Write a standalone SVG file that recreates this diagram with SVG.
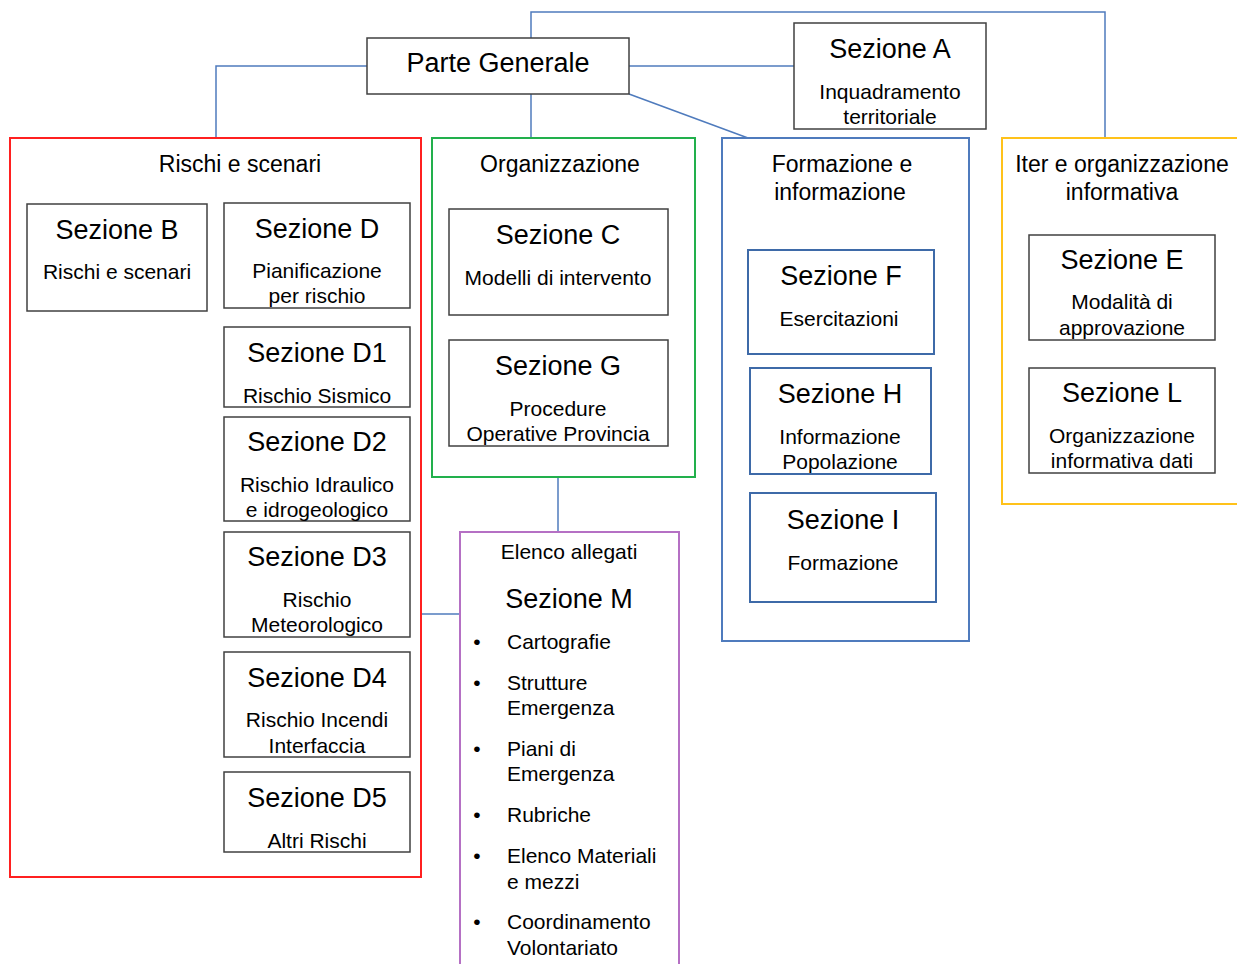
<svg xmlns="http://www.w3.org/2000/svg" width="1237" height="964" viewBox="0 0 1237 964">
<style>
text{font-family:"Liberation Sans",Arial,sans-serif;fill:#000;text-anchor:middle}
.h{font-size:27px}
.t{font-size:23px}
.b{font-size:21px}
.l{text-anchor:start}
.box{fill:#fff;stroke:#404040;stroke-width:1.5}
.bbox{fill:#fff;stroke:#3e6aa8;stroke-width:2}
.conn{fill:none;stroke:#4f7bbd;stroke-width:1.5}
</style>
<rect width="1237" height="964" fill="#fff"/>
<g id="connectors">
<polyline class="conn" points="531,38 531,12 1105,12 1105,138"/>
<polyline class="conn" points="367,66 216,66 216,138"/>
<line class="conn" x1="629" y1="66" x2="794" y2="66"/>
<line class="conn" x1="531" y1="94" x2="531" y2="138"/>
<line class="conn" x1="629" y1="94" x2="748" y2="138"/>
<line class="conn" x1="558" y1="477" x2="558" y2="532"/>
<line class="conn" x1="421" y1="614" x2="460" y2="614"/>
</g>
<g id="parte-generale">
<rect class="box" x="367" y="38" width="262" height="56"/>
<text class="h" x="498" y="72">Parte Generale</text>
</g>
<g id="sezione-a">
<rect class="box" x="794" y="23" width="192" height="106"/>
<text class="h" x="890" y="58">Sezione A</text>
<text class="b" x="890" y="99">Inquadramento</text>
<text class="b" x="890" y="124">territoriale</text>
</g>
<g id="rischi-scenari">
<rect x="10" y="138" width="411" height="739" fill="none" stroke="#ff2020" stroke-width="2"/>
<text class="t" x="240" y="172">Rischi e scenari</text>
</g>
<g id="sezione-b">
<rect class="box" x="27" y="204" width="180" height="107"/>
<text class="h" x="117" y="239">Sezione B</text>
<text class="b" x="117" y="279">Rischi e scenari</text>
</g>
<g id="sezione-d">
<rect class="box" x="224" y="203" width="186" height="105"/>
<text class="h" x="317" y="238">Sezione D</text>
<text class="b" x="317" y="278">Pianificazione</text>
<text class="b" x="317" y="303">per rischio</text>
</g>
<g id="sezione-d1">
<rect class="box" x="224" y="327" width="186" height="80"/>
<text class="h" x="317" y="362">Sezione D1</text>
<text class="b" x="317" y="403">Rischio Sismico</text>
</g>
<g id="sezione-d2">
<rect class="box" x="224" y="417" width="186" height="104"/>
<text class="h" x="317" y="451">Sezione D2</text>
<text class="b" x="317" y="492">Rischio Idraulico</text>
<text class="b" x="317" y="517">e idrogeologico</text>
</g>
<g id="sezione-d3">
<rect class="box" x="224" y="532" width="186" height="105"/>
<text class="h" x="317" y="566">Sezione D3</text>
<text class="b" x="317" y="607">Rischio</text>
<text class="b" x="317" y="632">Meteorologico</text>
</g>
<g id="sezione-d4">
<rect class="box" x="224" y="652" width="186" height="105"/>
<text class="h" x="317" y="687">Sezione D4</text>
<text class="b" x="317" y="727">Rischio Incendi</text>
<text class="b" x="317" y="753">Interfaccia</text>
</g>
<g id="sezione-d5">
<rect class="box" x="224" y="772" width="186" height="80"/>
<text class="h" x="317" y="807">Sezione D5</text>
<text class="b" x="317" y="848">Altri Rischi</text>
</g>
<g id="organizzazione">
<rect x="432" y="138" width="263" height="339" fill="none" stroke="#22b04c" stroke-width="2"/>
<text class="t" x="560" y="172">Organizzazione</text>
</g>
<g id="sezione-c">
<rect class="box" x="449" y="209" width="219" height="106"/>
<text class="h" x="558" y="244">Sezione C</text>
<text class="b" x="558" y="285">Modelli di intervento</text>
</g>
<g id="sezione-g">
<rect class="box" x="449" y="340" width="219" height="106"/>
<text class="h" x="558" y="375">Sezione G</text>
<text class="b" x="558" y="416">Procedure</text>
<text class="b" x="558" y="441">Operative Provincia</text>
</g>
<g id="sezione-m">
<rect x="460" y="532" width="219" height="440" fill="none" stroke="#b570c4" stroke-width="2"/>
<text class="b" x="569" y="559">Elenco allegati</text>
<text class="h" x="569" y="608">Sezione M</text>
<text class="b" x="477" y="649">•</text>
<text class="b l" x="507" y="649">Cartografie</text>
<text class="b" x="477" y="690">•</text>
<text class="b l" x="507" y="690">Strutture</text>
<text class="b l" x="507" y="715">Emergenza</text>
<text class="b" x="477" y="756">•</text>
<text class="b l" x="507" y="756">Piani di</text>
<text class="b l" x="507" y="781">Emergenza</text>
<text class="b" x="477" y="822">•</text>
<text class="b l" x="507" y="822">Rubriche</text>
<text class="b" x="477" y="863">•</text>
<text class="b l" x="507" y="863">Elenco Materiali</text>
<text class="b l" x="507" y="889">e mezzi</text>
<text class="b" x="477" y="929">•</text>
<text class="b l" x="507" y="929">Coordinamento</text>
<text class="b l" x="507" y="955">Volontariato</text>
</g>
<g id="formazione">
<rect x="722" y="138" width="247" height="503" fill="none" stroke="#4f7bbd" stroke-width="2"/>
<text class="t" x="842" y="172">Formazione e</text>
<text class="t" x="840" y="200">informazione</text>
</g>
<g id="sezione-f">
<rect class="bbox" x="748" y="250" width="186" height="104"/>
<text class="h" x="841" y="285">Sezione F</text>
<text class="b" x="839" y="326">Esercitazioni</text>
</g>
<g id="sezione-h">
<rect class="bbox" x="750" y="368" width="181" height="106"/>
<text class="h" x="840" y="403">Sezione H</text>
<text class="b" x="840" y="444">Informazione</text>
<text class="b" x="840" y="469">Popolazione</text>
</g>
<g id="sezione-i">
<rect class="bbox" x="750" y="493" width="186" height="109"/>
<text class="h" x="843" y="529">Sezione I</text>
<text class="b" x="843" y="570">Formazione</text>
</g>
<g id="iter">
<rect x="1002" y="138" width="245" height="366" fill="none" stroke="#ffc21a" stroke-width="2"/>
<text class="t" x="1122" y="172">Iter e organizzazione</text>
<text class="t" x="1122" y="200">informativa</text>
</g>
<g id="sezione-e">
<rect class="box" x="1029" y="235" width="186" height="105"/>
<text class="h" x="1122" y="269">Sezione E</text>
<text class="b" x="1122" y="309">Modalità di</text>
<text class="b" x="1122" y="335">approvazione</text>
</g>
<g id="sezione-l">
<rect class="box" x="1029" y="368" width="186" height="105"/>
<text class="h" x="1122" y="402">Sezione L</text>
<text class="b" x="1122" y="443">Organizzazione</text>
<text class="b" x="1122" y="468">informativa dati</text>
</g>
</svg>
